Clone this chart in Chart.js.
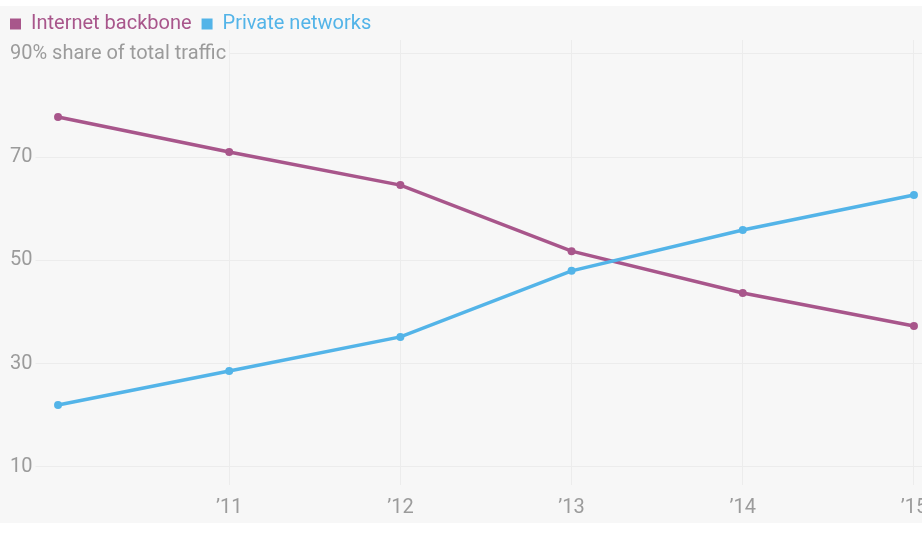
<!DOCTYPE html>
<html>
<head>
<meta charset="utf-8">
<script src="https://cdn.jsdelivr.net/npm/chart.js@4"></script>
<style>
  html, body { margin: 0; padding: 0; background: #fff; overflow: hidden; }
  #panel { position: absolute; left: 0; top: 6px; width: 922px; height: 517px; background: #f7f7f7; }
  #wrap { position: absolute; left: 0; top: 0; width: 922px; height: 523px; }
</style>
</head>
<body>
<div id="panel"></div>
<div id="wrap"><canvas id="trafficChart"></canvas></div>
<script>
const years = [10, 11, 12, 13, 14, 15];
const backbone = [77.8, 71.0, 64.6, 51.8, 43.7, 37.3];
const privateNets = [22.0, 28.6, 35.2, 48.0, 55.9, 62.7];
const yTicks = [10, 30, 50, 70, 90];
const xTicks = [11, 12, 13, 14, 15];

const purple = '#a8568b';
const blue = '#53b4e8';
const grey = '#9b9b9b';
const font = "Roboto, 'Open Sans', sans-serif";

const toPoints = (vals) => vals.map((v, i) => ({ x: years[i], y: v }));

Chart.defaults.font.family = font;

// pull the plot area a little closer to the legend row
const tightLegend = {
    id: 'tightLegend',
    afterInit(chart) {
        const legend = chart.legend;
        if (!legend) return;
        const fit = legend.fit;
        legend.fit = function () {
            fit.call(this);
            this.height -= 4;
        };
    }
};

document.addEventListener("DOMContentLoaded", () => {
    const ctx = document.getElementById('trafficChart').getContext('2d');

    new Chart(ctx, {
        type: 'line',
        data: {
            datasets: [
                {
                    label: 'Internet backbone',
                    data: toPoints(backbone),
                    borderColor: purple,
                    backgroundColor: purple,
                    borderWidth: 3.5,
                    pointRadius: 4,
                    pointBorderWidth: 0,
                    order: 1
                },
                {
                    label: 'Private networks',
                    data: toPoints(privateNets),
                    borderColor: blue,
                    backgroundColor: blue,
                    borderWidth: 3.5,
                    pointRadius: 4,
                    pointBorderWidth: 0,
                    order: 0
                }
            ]
        },
        plugins: [tightLegend],
        options: {
            responsive: true,
            maintainAspectRatio: false,
            animation: false,
            layout: { autoPadding: false, padding: { top: 4, left: 0, right: 0, bottom: 0 } },
            plugins: {
                tooltip: { enabled: false },
                legend: {
                    position: 'top',
                    align: 'start',
                    labels: {
                        boxWidth: 11,
                        boxHeight: 11,
                        padding: 10,
                        font: { size: 20 },
                        sort: (a, b) => a.datasetIndex - b.datasetIndex,
                        generateLabels: (chart) => chart.data.datasets.map((ds, i) => ({
                            text: ds.label,
                            fillStyle: ds.borderColor,
                            strokeStyle: ds.borderColor,
                            lineWidth: 0,
                            fontColor: ds.borderColor,
                            datasetIndex: i,
                            hidden: false
                        }))
                    }
                }
            },
            scales: {
                x: {
                    type: 'linear',
                    min: 9.661,
                    max: 15.047,
                    afterBuildTicks: (scale) => { scale.ticks = xTicks.map(v => ({ value: v })); },
                    afterFit: (scale) => {
                        scale.height = 38;
                        scale.paddingLeft = 0;
                        scale.paddingRight = 0;
                    },
                    border: { display: false },
                    grid: { color: '#ececec', lineWidth: 1, drawTicks: false },
                    ticks: {
                        padding: 11,
                        color: grey,
                        font: { size: 20 },
                        maxRotation: 0,
                        callback: (v) => '\u2019' + v
                    }
                },
                y: {
                    min: 6.513,
                    max: 92.71,
                    afterBuildTicks: (scale) => { scale.ticks = yTicks.map(v => ({ value: v })); },
                    afterFit: (scale) => {
                        scale.width = 0;
                        scale.paddingTop = 0;
                        scale.paddingBottom = 0;
                    },
                    border: { display: false },
                    grid: { color: '#ececec', lineWidth: 1, drawTicks: false },
                    ticks: {
                        mirror: true,
                        padding: 10,
                        color: grey,
                        font: { size: 20 },
                        showLabelBackdrop: true,
                        backdropColor: '#f7f7f7',
                        backdropPadding: { left: 10, right: 3, top: 2, bottom: 2 },
                        callback: (v) => v === 90 ? '90% share of total traffic' : String(v)
                    }
                }
            }
        }
    });
});
</script>
</body>
</html>
